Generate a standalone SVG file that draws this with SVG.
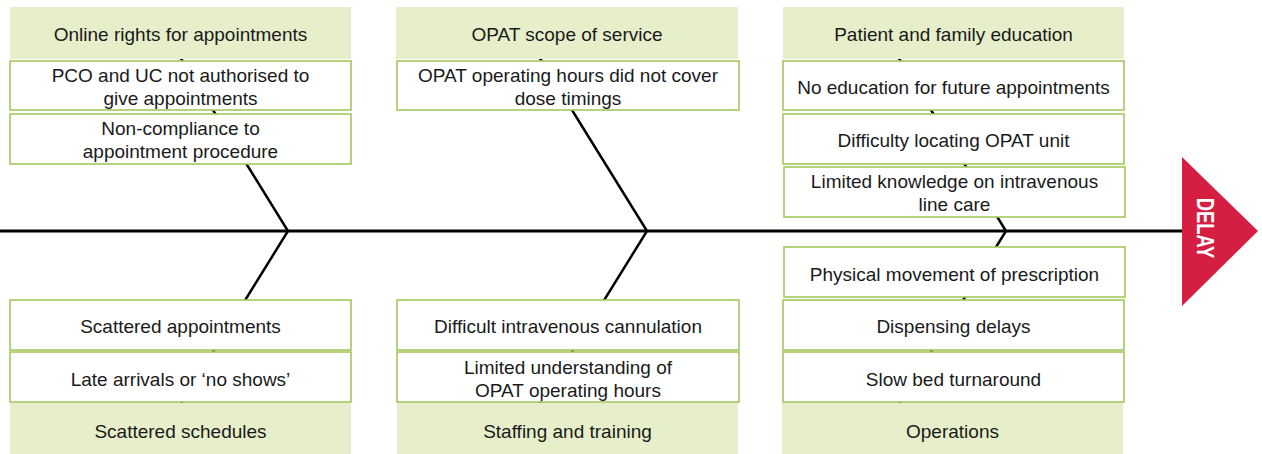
<svg xmlns="http://www.w3.org/2000/svg" width="1262" height="454" viewBox="0 0 1262 454">
<style>
.hdr{fill:#e6efca;stroke:none}
.box{fill:#ffffff;stroke:#a2c95c;stroke-width:1.6}
.t{font-family:"Liberation Sans",Arial,sans-serif;font-size:19px;fill:#1a1a1a;text-anchor:middle}
.bone{stroke:#000;stroke-width:2.5;fill:none}
.spine{stroke:#000;stroke-width:3;fill:none}
</style>
<rect width="1262" height="454" fill="#ffffff"/>
<g id="connectors">
<line class="spine" x1="0" y1="231" x2="1184" y2="231"/>
<polyline class="bone" points="164,31 288,231 164,431"/>
<polyline class="bone" points="523,31 647,231 523,431"/>
<polyline class="bone" points="882,31 1006,231 882,431"/>
</g>
<g id="h1"><rect class="hdr" x="10" y="7" width="341" height="52"/><text class="t" x="180.5" y="41">Online rights for appointments</text></g>
<g id="n1a"><rect class="box" x="10" y="61" width="341" height="49"/><text class="t" x="180.5" y="82">PCO and UC not authorised to</text><text class="t" x="180.5" y="105">give appointments</text></g>
<g id="n1b"><rect class="box" x="10" y="114" width="341" height="50"/><text class="t" x="180.5" y="135">Non-compliance to</text><text class="t" x="180.5" y="158">appointment procedure</text></g>
<g id="h2"><rect class="hdr" x="396" y="7" width="342" height="52"/><text class="t" x="567" y="41">OPAT scope of service</text></g>
<g id="n2a"><rect class="box" x="397" y="61" width="342" height="49"/><text class="t" x="568" y="82">OPAT operating hours did not cover</text><text class="t" x="568" y="105">dose timings</text></g>
<g id="h3"><rect class="hdr" x="783" y="7" width="341" height="52"/><text class="t" x="953.5" y="41">Patient and family education</text></g>
<g id="n3a"><rect class="box" x="783" y="61" width="341" height="49"/><text class="t" x="953.5" y="94">No education for future appointments</text></g>
<g id="n3b"><rect class="box" x="783" y="114" width="341" height="50"/><text class="t" x="953.5" y="147">Difficulty locating OPAT unit</text></g>
<g id="n3c"><rect class="box" x="784" y="167" width="341" height="50"/><text class="t" x="954.5" y="188">Limited knowledge on intravenous</text><text class="t" x="954.5" y="211">line care</text></g>
<g id="n4a"><rect class="box" x="10" y="300" width="341" height="50"/><text class="t" x="180.5" y="333">Scattered appointments</text></g>
<g id="n4b"><rect class="box" x="10" y="352" width="341" height="50"/><text class="t" x="180.5" y="386">Late arrivals or ‘no shows’</text></g>
<g id="h4"><rect class="hdr" x="10" y="403" width="341" height="51"/><text class="t" x="180.5" y="438">Scattered schedules</text></g>
<g id="n5a"><rect class="box" x="397" y="300" width="342" height="50"/><text class="t" x="568" y="333">Difficult intravenous cannulation</text></g>
<g id="n5b"><rect class="box" x="397" y="352" width="342" height="50"/><text class="t" x="568" y="374">Limited understanding of</text><text class="t" x="568" y="397">OPAT operating hours</text></g>
<g id="h5"><rect class="hdr" x="397" y="403" width="341" height="51"/><text class="t" x="567.5" y="438">Staffing and training</text></g>
<g id="n6a"><rect class="box" x="784" y="247" width="341" height="50"/><text class="t" x="954.5" y="281">Physical movement of prescription</text></g>
<g id="n6b"><rect class="box" x="783" y="300" width="341" height="50"/><text class="t" x="953.5" y="333">Dispensing delays</text></g>
<g id="n6c"><rect class="box" x="783" y="352" width="341" height="50"/><text class="t" x="953.5" y="386">Slow bed turnaround</text></g>
<g id="h6"><rect class="hdr" x="782" y="403" width="341" height="51"/><text class="t" x="952.5" y="438">Operations</text></g>
<g id="delay">
<polygon points="1182,157 1258,231 1182,306" fill="#d41f42"/>
<text transform="translate(1197,228) rotate(90) scale(0.8,1)" font-family="Liberation Sans,Arial,sans-serif" font-weight="bold" font-size="23" fill="#ffffff" text-anchor="middle">DELAY</text>
</g>
</svg>
